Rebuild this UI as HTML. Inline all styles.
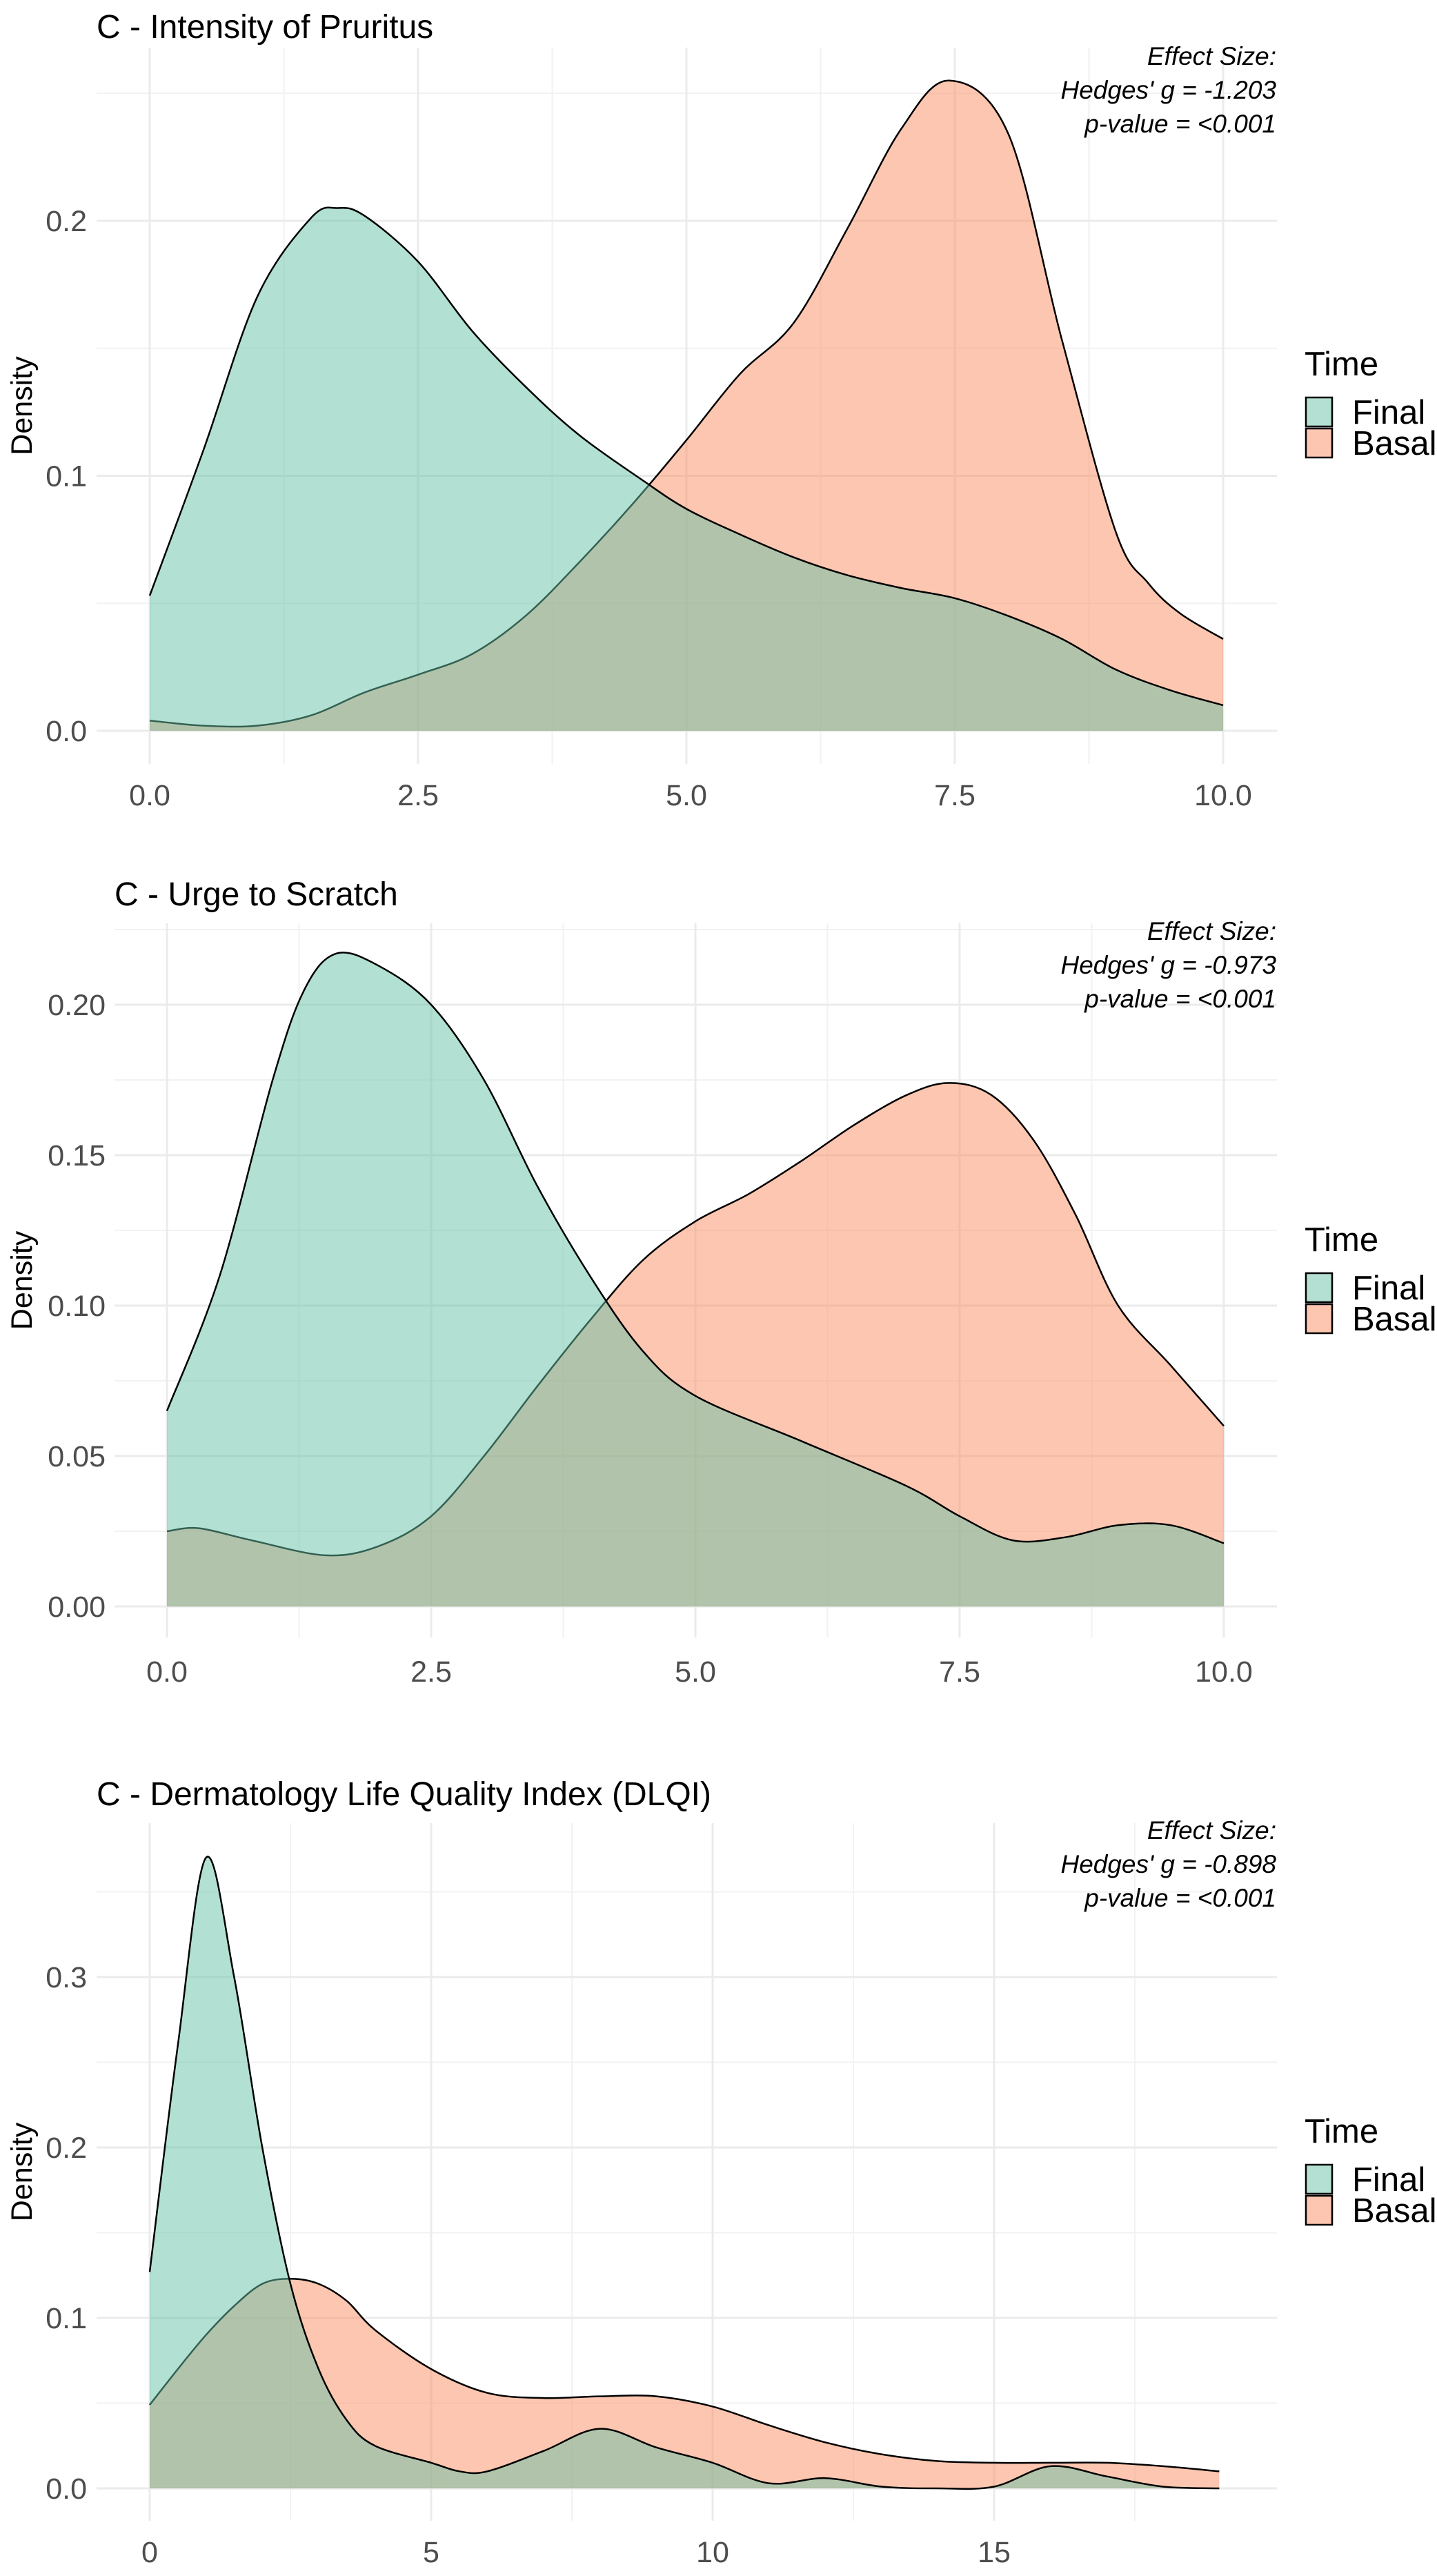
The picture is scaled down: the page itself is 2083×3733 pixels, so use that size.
<!DOCTYPE html>
<html><head><meta charset="utf-8"><style>
html,body{margin:0;padding:0;background:#fff;}
svg{display:block;font-family:"Liberation Sans",Arial,sans-serif;}
</style></head><body>
<svg id="chart" width="2083" height="3733" viewBox="0 0 2083 3733" xmlns="http://www.w3.org/2000/svg"></svg>
<script>
// Panel 1 - Intensity of Pruritus
const p1FinalX = [0,0.5,1,1.5,1.75,2,2.5,3,3.5,4,4.6,5,5.5,6,6.5,7,7.5,8,8.5,9,9.5,10];
const p1FinalY = [0.053,0.11,0.17,0.201,0.205,0.202,0.184,0.157,0.135,0.116,0.098,0.087,0.077,0.068,0.061,0.056,0.052,0.045,0.036,0.024,0.016,0.01];
const p1BasalX = [0,0.5,1,1.5,2,2.5,3,3.5,4,4.5,5,5.5,6,6.5,7,7.45,8,8.5,9,9.3,9.6,10];
const p1BasalY = [0.004,0.002,0.002,0.006,0.015,0.022,0.03,0.045,0.066,0.089,0.114,0.14,0.16,0.197,0.236,0.255,0.234,0.153,0.078,0.058,0.046,0.036];
// Panel 2 - Urge to Scratch
const p2FinalX = [0,0.5,1,1.3,1.6,2,2.5,3,3.5,4,4.5,5,6,7,7.5,8,8.5,9,9.5,10];
const p2FinalY = [0.065,0.11,0.175,0.205,0.217,0.213,0.2,0.175,0.14,0.11,0.085,0.07,0.055,0.04,0.03,0.022,0.023,0.027,0.027,0.021];
const p2BasalX = [0,0.3,0.8,1.5,2,2.5,3,3.5,4,4.5,5,5.5,6,6.5,7,7.4,7.8,8.2,8.6,9,9.5,10];
const p2BasalY = [0.025,0.026,0.022,0.017,0.02,0.03,0.05,0.073,0.095,0.115,0.128,0.137,0.148,0.16,0.17,0.174,0.17,0.155,0.13,0.1,0.08,0.06];
// Panel 3 - DLQI
const p3FinalX = [0,0.5,1,1.5,2,2.5,3,3.5,4,5,5.5,6,7,8,9,10,11,12,13,14,15,16,17,18,19];
const p3FinalY = [0.127,0.26,0.37,0.3,0.2,0.12,0.07,0.04,0.025,0.015,0.01,0.01,0.022,0.035,0.024,0.015,0.003,0.006,0.001,0,0.001,0.013,0.007,0.001,0];
const p3BasalX = [0,0.5,1,1.5,2,2.5,3,3.5,4,5,6,7,8,9,10,11,12,13,14,15,16,17,18,19];
const p3BasalY = [0.049,0.07,0.09,0.107,0.12,0.123,0.12,0.11,0.093,0.07,0.056,0.053,0.054,0.054,0.048,0.037,0.027,0.02,0.016,0.015,0.015,0.015,0.013,0.01];
const p1XTicks = [0,2.5,5,7.5,10], p1XTickLabels = ["0.0","2.5","5.0","7.5","10.0"];
const p1YTicks = [0,0.1,0.2], p1YTickLabels = ["0.0","0.1","0.2"];
const p2XTicks = [0,2.5,5,7.5,10], p2XTickLabels = ["0.0","2.5","5.0","7.5","10.0"];
const p2YTicks = [0,0.05,0.1,0.15,0.2], p2YTickLabels = ["0.00","0.05","0.10","0.15","0.20"];
const p3XTicks = [0,5,10,15], p3XTickLabels = ["0","5","10","15"];
const p3YTicks = [0,0.1,0.2,0.3], p3YTickLabels = ["0.0","0.1","0.2","0.3"];

const NS="http://www.w3.org/2000/svg";
const svg=document.getElementById('chart');
function mk(tag,attrs,parent){const e=document.createElementNS(NS,tag);for(const k in attrs)e.setAttribute(k,attrs[k]);(parent||svg).appendChild(e);return e;}

const panels=[
 {id:'pruritus',title:'C - Intensity of Pruritus',fx:p1FinalX,fy:p1FinalY,bx:p1BasalX,by:p1BasalY,xt:p1XTicks,xl:p1XTickLabels,yt:p1YTicks,yl:p1YTickLabels,
  x0:217,xUnit:155.6,y0:1059,yUnit:3695,gl:140,gr:1851,gt:69,gb:1107,ylx:126,xly:1152,titleY:55,titleX:140,ann:[94,143,192],leg:544,ymax:0.27,yminor:0.05},
 {id:'urge',title:'C - Urge to Scratch',fx:p2FinalX,fy:p2FinalY,bx:p2BasalX,by:p2BasalY,xt:p2XTicks,xl:p2XTickLabels,yt:p2YTicks,yl:p2YTickLabels,
  x0:242,xUnit:153.2,y0:2328,yUnit:4360,gl:166,gr:1851,gt:1338,gb:2373,ylx:153,xly:2422,titleY:1312,titleX:166,ann:[1362,1411,1460],leg:1813,ymax:0.226,yminor:0.025},
 {id:'dlqi',title:'C - Dermatology Life Quality Index (DLQI)',fx:p3FinalX,fy:p3FinalY,bx:p3BasalX,by:p3BasalY,xt:p3XTicks,xl:p3XTickLabels,yt:p3YTicks,yl:p3YTickLabels,
  x0:217,xUnit:81.6,y0:3606,yUnit:2470,gl:140,gr:1851,gt:2642,gb:3653,ylx:126,xly:3698,titleY:2616,titleX:140,ann:[2665,2714,2763],leg:3105,ymax:0.39,yminor:0.05}
];
const hedges={pruritus:"-1.203",urge:"-0.973",dlqi:"-0.898"};

function smoothPath(pts){
 let d=`M${pts[0][0]},${pts[0][1]}`;
 for(let i=0;i<pts.length-1;i++){
  const p0=pts[i-1]||pts[i],p1=pts[i],p2=pts[i+1],p3=pts[i+2]||p2;
  const c1=[p1[0]+(p2[0]-p0[0])/6,p1[1]+(p2[1]-p0[1])/6];
  const c2=[p2[0]-(p3[0]-p1[0])/6,p2[1]-(p3[1]-p1[1])/6];
  d+=` C${c1[0].toFixed(1)},${c1[1].toFixed(1)} ${c2[0].toFixed(1)},${c2[1].toFixed(1)} ${p2[0].toFixed(1)},${p2[1].toFixed(1)}`;
 }
 return d;
}

panels.forEach(p=>{
 const g=mk('g',{});
 
 
 const X=v=>p.x0+v*p.xUnit, Y=v=>p.y0-v*p.yUnit;
 for(let v=p.yminor;v<p.ymax;v+=p.yminor*2){
  const l=mk('line',{x1:p.gl,x2:p.gr,y1:Y(v),y2:Y(v),stroke:'#f2f2f2','stroke-width':2},g);
  
  
 }
 for(let i=0;i<p.xt.length;i++){
  const step=p.xt[1]-p.xt[0];
  const v=p.xt[i]+step/2;
  if(X(v)>p.gr) continue;
  const l=mk('line',{x1:X(v),x2:X(v),y1:p.gt,y2:p.gb,stroke:'#f2f2f2','stroke-width':2},g);
  
  
 }
 p.yt.forEach((v,i)=>{
  const l=mk('line',{x1:p.gl,x2:p.gr,y1:Y(v),y2:Y(v),stroke:'#ebebeb','stroke-width':3},g);
  
  
  const t=mk('text',{x:p.ylx,y:Y(v)+15,'text-anchor':'end','font-size':43,fill:'#4d4d4d'},g);
  t.textContent=p.yl[i];
  
  
 });
 p.xt.forEach((v,i)=>{
  const l=mk('line',{x1:X(v),x2:X(v),y1:p.gt,y2:p.gb,stroke:'#ebebeb','stroke-width':3},g);
  
  
  const t=mk('text',{x:X(v),y:p.xly+15,'text-anchor':'middle','font-size':43,fill:'#4d4d4d'},g);
  t.textContent=p.xl[i];
  
  
 });
 const series=[['basal',p.bx,p.by,'rgba(252,141,98,0.5)'],['final',p.fx,p.fy,'rgba(102,194,165,0.5)']];
 series.forEach(s=>{
  const pts=s[1].map((x,i)=>[X(x),Y(s[2][i])]);
  const top=smoothPath(pts);
  const area=mk('path',{d:top+` L${pts[pts.length-1][0]},${Y(0)} L${pts[0][0]},${Y(0)} Z`,fill:s[3],stroke:'none'},g);
  
  
  const line=mk('path',{d:top,fill:'none',stroke:'#000','stroke-width':2.5},g);
  
  
 });
 const title=mk('text',{x:p.titleX,y:p.titleY,'font-size':48,fill:'#000'},g);
 title.textContent=p.title;
 
 
 const yl=mk('text',{x:0,y:0,'font-size':43,fill:'#000','text-anchor':'middle',transform:`translate(46,${(p.gt+p.gb)/2}) rotate(-90)`},g);
 yl.textContent='Density';
 
 
 const annTxt=['Effect Size:',"Hedges' g = "+hedges[p.id],'p-value = <0.001'];
 annTxt.forEach((s,i)=>{
  const t=mk('text',{x:1850,y:p.ann[i],'font-size':37,'font-style':'italic','text-anchor':'end',fill:'#000'},g);
  t.textContent=s;
  
  
 });
 const lt=mk('text',{x:1891,y:p.leg,'font-size':49,fill:'#000'},g);
 lt.textContent='Time';
 
 
 [['Final','#b3e0d2'],['Basal','#fdc6b0']].forEach((e,i)=>{
  const by=p.leg+32+i*45;
  const r=mk('rect',{x:1893,y:by,width:38,height:42,fill:e[1],stroke:'#000','stroke-width':2.5},g);
  
  
  const t=mk('text',{x:1960,y:by+38,'font-size':49,fill:'#000'},g);
  t.textContent=e[0];
  
  
 });
});
</script>
</body></html>
